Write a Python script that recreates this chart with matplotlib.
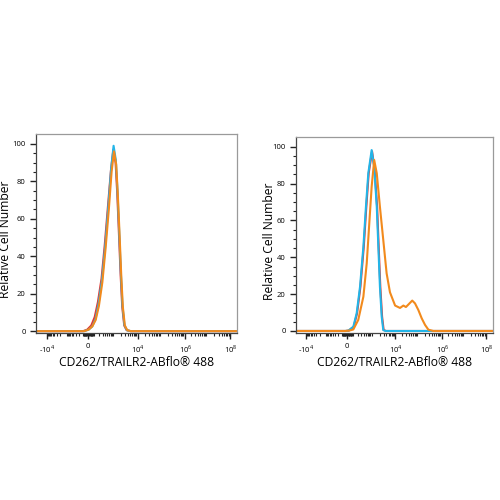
import numpy as np
import matplotlib
matplotlib.use("Agg")
import matplotlib.pyplot as plt

plt.rcParams['font.family'] = ['Open Sans', 'DejaVu Sans']
plt.rcParams['mathtext.fontset'] = 'custom'
plt.rcParams['mathtext.rm'] = 'Open Sans'

# x axis in display channels (0-1000), biexponential-like labelling
tick_pos = [53, 258, 505, 743, 967]
tick_lab = [r'-10$^4$', '0', r'10$^4$', r'10$^6$', r'10$^8$']

# left panel (unstained / isotype / stained all overlap)
l_cyan_x = [0, 240, 262, 280, 296, 311, 328, 344, 361, 374, 386, 397, 405, 414, 422, 430, 440, 452, 470, 1000]
l_cyan_y = [0, 0, 0.8, 2.5, 6.5, 14.5, 27, 45, 68, 87, 99, 91.5, 75.6, 52.8, 31.6, 13.8, 3.2, 0.5, 0, 0]
l_red_x = [0, 235, 255, 275, 292, 308, 326, 342, 359, 373, 385, 396, 404, 413, 421, 429, 439, 451, 470, 1000]
l_red_y = [0, 0, 0.8, 3, 7.5, 15.5, 28, 46, 68, 86, 97, 90, 74, 51, 30, 13, 3, 0.5, 0, 0]
l_orange_x = [0, 240, 262, 280, 297, 313, 330, 346, 363, 376, 388, 399, 407, 416, 424, 432, 442, 454, 472, 1000]
l_orange_y = [0, 0, 0.8, 2.5, 6, 13.5, 26, 44, 66, 85, 96, 89, 73, 51, 30, 13, 3, 0.5, 0, 0]

# right panel
r_cyan_x = [0, 250, 266, 291, 308, 325, 342, 355, 367, 384, 397, 410, 418, 426, 435, 443, 455, 1000]
r_cyan_y = [0, 0, 0.2, 2.3, 9.6, 24, 45.7, 67.4, 85.6, 98.2, 89, 67.4, 45.7, 24, 7.8, 0.5, 0, 0]
r_red_x = [0, 252, 268, 293, 310, 327, 344, 357, 369, 386, 399, 412, 420, 428, 437, 445, 457, 1000]
r_red_y = [0, 0, 0.2, 2.3, 9.6, 24, 45.7, 67.4, 85.6, 97.5, 88, 67, 45, 24, 7.8, 0.5, 0, 0]
r_orange_x = [0, 250, 270, 291, 316, 342, 359, 372, 384, 397, 410, 426, 443, 460, 477, 503, 528,
              545, 558, 570, 590, 604, 621, 638, 655, 672, 697, 1000]
r_orange_y = [0, 0, 0.2, 0.8, 6, 18.6, 36.7, 58.4, 78.3, 92.8, 85.6, 67.4, 49.4, 31.3, 21, 13.8, 12.5,
              13.8, 13.0, 14.3, 16.5, 15.0, 11.4, 6.9, 3.3, 0.7, 0, 0]

c_cyan = '#22b5e8'
c_red = '#e8342c'
c_orange = '#f28a1c'
ylab = 'Relative Cell Number'
xlab = 'CD262/TRAILR2-ABflo\u00ae 488'


def minor_positions():
    # approximate biexponential transform for minor ticks only
    pos = []
    for k in range(1, 8):
        for m in range(2, 10):
            v = m * 10 ** k
            pos.append(258 + 50.4 * np.arcsinh(v / 149))
    for k in range(1, 4):
        for m in range(2, 10):
            v = m * 10 ** k
            pos.append(258 - 41.8 * np.arcsinh(v / 149))
    return [p for p in pos if 2 < p < 998]


def style(ax, ylim, ylab_x):
    ax.set_xlim(0, 1000)
    ax.set_ylim(*ylim)
    ax.set_xticks(tick_pos)
    ax.set_xticklabels(tick_lab)
    ax.set_xticks(minor_positions(), minor=True)
    ax.set_yticks([0, 20, 40, 60, 80, 100])
    ax.set_yticks(np.arange(0, 101, 5), minor=True)
    ax.tick_params(axis='both', which='major', length=4.5, width=1, labelsize=5.5, pad=3, color='#222')
    ax.tick_params(axis='both', which='minor', length=2.2, width=0.8, color='#222')
    for s in ['top', 'right']:
        ax.spines[s].set_color('#9a9a9a')
        ax.spines[s].set_linewidth(0.9)
    for s in ['left', 'bottom']:
        ax.spines[s].set_color('#444')
        ax.spines[s].set_linewidth(0.9)
    ax.set_xlabel(xlab, fontsize=8.7)
    ax.xaxis.set_label_coords(0.5, -0.115)
    ax.set_ylabel(ylab, fontsize=8.7)
    ax.yaxis.set_label_coords(ylab_x, 0.47)


fig = plt.figure(figsize=(5, 5), dpi=100)
ax1 = fig.add_axes([0.072, 0.334, 0.402, 0.398])
ax2 = fig.add_axes([0.592, 0.334, 0.394, 0.392])

lw = 1.5
ax1.plot(l_red_x, l_red_y, color=c_red, lw=lw)
ax1.plot(l_cyan_x, l_cyan_y, color=c_cyan, lw=lw)
ax1.plot(l_orange_x, l_orange_y, color=c_orange, lw=lw)
style(ax1, (-1, 105.3), -0.12)

ax2.plot(r_red_x, r_red_y, color=c_red, lw=lw)
ax2.plot(r_cyan_x, r_cyan_y, color=c_cyan, lw=lw)
ax2.plot(r_orange_x, r_orange_y, color=c_orange, lw=lw)
style(ax2, (-1.1, 105.3), -0.10)

fig.savefig('out.png', dpi=100)
plt.close(fig)
